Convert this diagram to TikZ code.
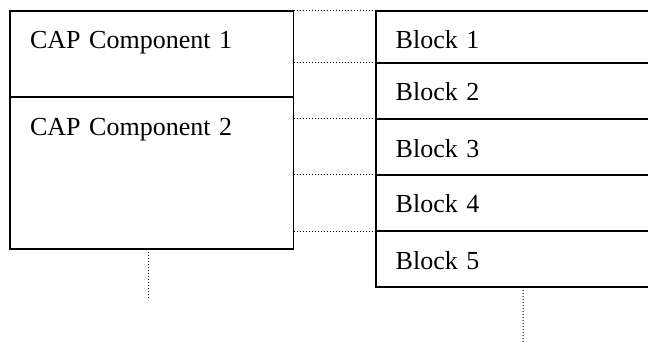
\documentclass[tikz,border=0pt]{standalone}
\usepackage{fontspec}
\setmainfont{Liberation Serif}
\usetikzlibrary{positioning}

\begin{document}
\begin{tikzpicture}[
  x=0.5pt, y=-0.5pt,
  node distance=0pt,
  every node/.style={font=\fontsize{13}{15}\selectfont},
  cell/.style={draw, rectangle, line width=0.9pt, inner xsep=10pt, inner ysep=0pt,
    outer sep=0pt, align=left, text height=19pt, anchor=north west},
  comp/.style={cell, text width=121.75pt, text depth=#1},
  block/.style={cell, text width=127.3pt, text depth=#1},
  block/.default=9pt,
  link/.style={line width=0.5pt, dash pattern=on 0.5pt off 1pt}]

  \useasboundingbox (0,0) rectangle (648,342);
  \clip (0,0) rectangle (648,342);

  % CAP components
  \node[comp=24pt] (comp1) at (10,11) {CAP Component 1};
  \node[comp=57pt, below=of comp1] (comp2) {CAP Component 2};

  % blocks
  \node[block=7pt] (b1) at (375.7,11) {Block 1};
  \foreach \i [remember=\i as \prev (initially 1)] in {2,...,5}
    \node[block, below=of b\prev] (b\i) {Block \i};

  % dotted links
  \draw[link] (comp1.north east) -- (b1.north west);
  \foreach \i in {1,...,4}
    \draw[link] (b\i.south west -| comp1.east) -- (b\i.south west);

  \coordinate (endL) at (148,300);
  \coordinate (endR) at (523,342);
  \draw[link] (endL |- comp2.south) -- (endL);
  \draw[link] (b5.south) -- (endR);
\end{tikzpicture}
\end{document}
